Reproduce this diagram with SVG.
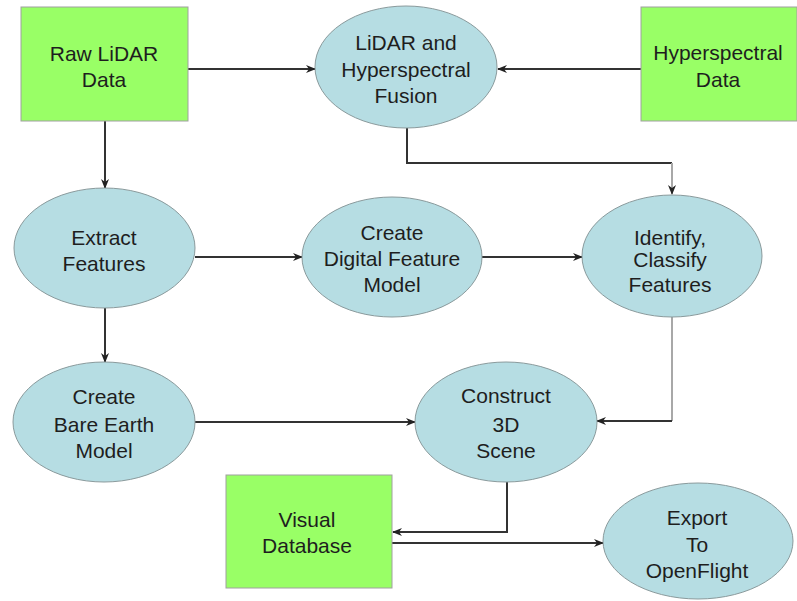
<svg xmlns="http://www.w3.org/2000/svg" width="797" height="601" viewBox="0 0 797 601">
  <style>
    .box { fill: #99ff66; stroke: #a0a0a0; stroke-width: 1; }
    .oval { fill: #b6dde3; stroke: #8a9a9c; stroke-width: 1; }
    .lbl { font-family: "Liberation Sans", Arial, sans-serif; font-size: 21px; fill: #1e1e1e; text-anchor: middle; }
    .edge { fill: none; stroke: #333333; stroke-width: 2; }
    .edge-light { fill: none; stroke: #a8a8a8; stroke-width: 2; }
  </style>
  <defs>
    <marker id="arrow" markerWidth="10" markerHeight="10" refX="9" refY="5" orient="auto" markerUnits="userSpaceOnUse">
      <path d="M0,1 L10,5 L0,9 L3,5 z" fill="#222222"/>
    </marker>
  </defs>
  <rect width="797" height="601" fill="#ffffff"/>

  <g id="connectors">
    <!-- Raw LiDAR -> Fusion -->
    <path class="edge" d="M188,69 L315,69" marker-end="url(#arrow)"/>
    <!-- Hyperspectral -> Fusion -->
    <path class="edge" d="M641,69 L498,69" marker-end="url(#arrow)"/>
    <!-- Fusion -> Identify -->
    <path class="edge" d="M407,128 L407,163 L672,163"/>
    <path class="edge-light" d="M672,163 L672,194" marker-end="url(#arrow)"/>
    <!-- Raw LiDAR -> Extract -->
    <path class="edge" d="M105,121 L105,188" marker-end="url(#arrow)"/>
    <!-- Extract -> Digital Feature Model -->
    <path class="edge" d="M195,257 L302,257" marker-end="url(#arrow)"/>
    <!-- Digital Feature Model -> Identify -->
    <path class="edge" d="M482,257 L582,257" marker-end="url(#arrow)"/>
    <!-- Extract -> Bare Earth -->
    <path class="edge" d="M105,308 L105,362" marker-end="url(#arrow)"/>
    <!-- Bare Earth -> Construct -->
    <path class="edge" d="M195,422 L415,422" marker-end="url(#arrow)"/>
    <!-- Identify -> Construct -->
    <path class="edge-light" d="M672,317 L672,421"/>
    <path class="edge" d="M672,421 L597,421" marker-end="url(#arrow)"/>
    <!-- Construct -> Visual Database -->
    <path class="edge" d="M507,482 L507,532 L393,532" marker-end="url(#arrow)"/>
    <!-- Visual Database -> Export -->
    <path class="edge" d="M392,543 L603,543" marker-end="url(#arrow)"/>
  </g>

  <g id="raw-lidar">
    <rect class="box" x="21" y="7" width="167" height="114"/>
    <text class="lbl" x="104" y="61">Raw LiDAR</text>
    <text class="lbl" x="104" y="87">Data</text>
  </g>

  <g id="fusion">
    <ellipse class="oval" cx="406" cy="67" rx="91" ry="61"/>
    <text class="lbl" x="406" y="50">LiDAR and</text>
    <text class="lbl" x="406" y="77">Hyperspectral</text>
    <text class="lbl" x="406" y="103">Fusion</text>
  </g>

  <g id="hyperspectral">
    <rect class="box" x="641" y="7" width="156" height="114"/>
    <text class="lbl" x="718" y="60">Hyperspectral</text>
    <text class="lbl" x="718" y="87">Data</text>
  </g>

  <g id="extract">
    <ellipse class="oval" cx="104.5" cy="248" rx="90.5" ry="60"/>
    <text class="lbl" x="104" y="245">Extract</text>
    <text class="lbl" x="104" y="271">Features</text>
  </g>

  <g id="digital-feature-model">
    <ellipse class="oval" cx="392" cy="257" rx="90" ry="60"/>
    <text class="lbl" x="392" y="240">Create</text>
    <text class="lbl" x="392" y="266">Digital Feature</text>
    <text class="lbl" x="392" y="292">Model</text>
  </g>

  <g id="identify">
    <ellipse class="oval" cx="672" cy="256" rx="90" ry="61"/>
    <text class="lbl" x="670" y="245">Identify,</text>
    <text class="lbl" x="670" y="267">Classify</text>
    <text class="lbl" x="670" y="292">Features</text>
  </g>

  <g id="bare-earth">
    <ellipse class="oval" cx="104" cy="422" rx="91" ry="60"/>
    <text class="lbl" x="104" y="404">Create</text>
    <text class="lbl" x="104" y="432">Bare Earth</text>
    <text class="lbl" x="104" y="458">Model</text>
  </g>

  <g id="construct">
    <ellipse class="oval" cx="506" cy="422" rx="91" ry="60"/>
    <text class="lbl" x="506" y="403">Construct</text>
    <text class="lbl" x="506" y="432">3D</text>
    <text class="lbl" x="506" y="458">Scene</text>
  </g>

  <g id="visual-database">
    <rect class="box" x="226" y="475" width="166" height="113"/>
    <text class="lbl" x="307" y="527">Visual</text>
    <text class="lbl" x="307" y="553">Database</text>
  </g>

  <g id="export">
    <ellipse class="oval" cx="698" cy="541" rx="95" ry="58"/>
    <text class="lbl" x="697" y="525">Export</text>
    <text class="lbl" x="697" y="552">To</text>
    <text class="lbl" x="697" y="578">OpenFlight</text>
  </g>
</svg>
